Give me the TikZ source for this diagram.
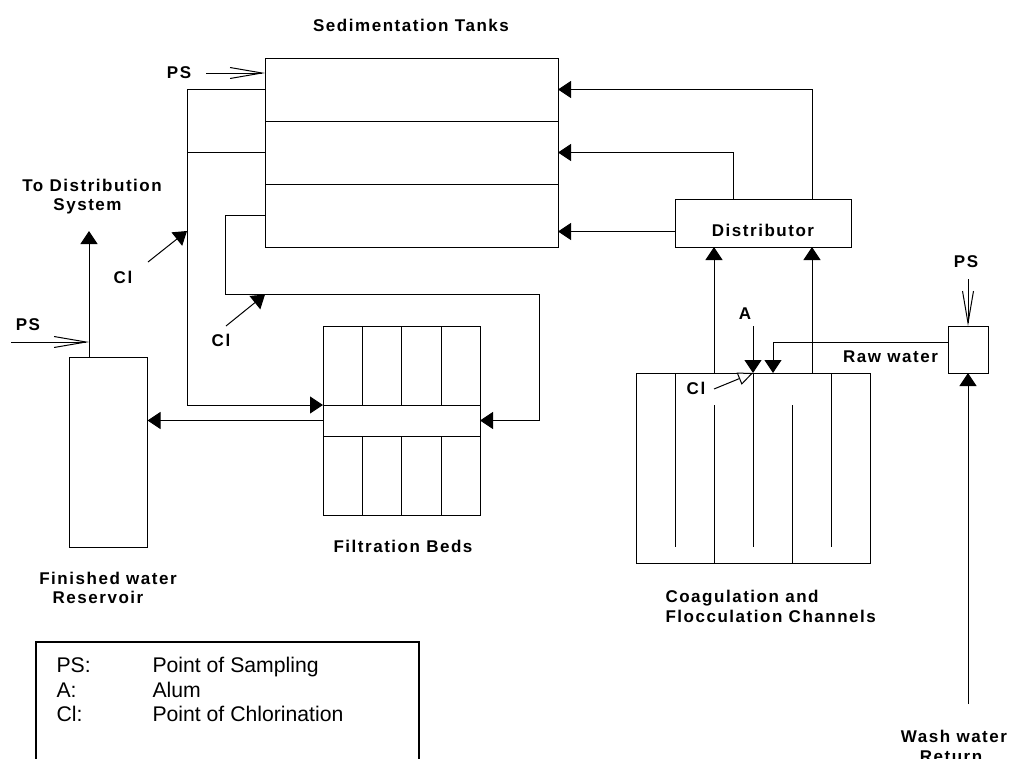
\documentclass[tikz,border=0pt]{standalone}
\usepackage{fontspec}
\setmainfont{Liberation Sans}
\newfontfamily\lblfont[LetterSpace=9]{Liberation Sans}
\usetikzlibrary{arrows.meta}

\begin{document}
\begin{tikzpicture}[x=1pt,y=-1pt,>=Stealth,line width=1pt,
		box/.style={draw,rectangle,inner sep=0pt,outer sep=0pt},
		lbl/.style={inner sep=0pt,anchor=base,font=\lblfont\bfseries\fontsize{17}{20}\selectfont},
		key/.style={inner sep=0pt,anchor=base west,font=\fontsize{21.2}{24}\selectfont},
		flow/.style={-{Triangle[length=13pt,width=17pt]}},
		probe/.style={-{Straight Barb[length=32pt,width=11pt]}},
		dose/.style={-{Triangle[open,fill=white,length=15pt,width=13pt]}}]
		
		\useasboundingbox (0,0) rectangle (1009,758);
		
		% Sedimentation tanks
		\node[box,minimum width=293pt,minimum height=63pt] (tankA) at (411.5,89.5) {};
		\node[box,minimum width=293pt,minimum height=63pt] (tankB) at (411.5,152.5) {};
		\node[box,minimum width=293pt,minimum height=63pt] (tankC) at (411.5,215.5) {};
		\node[lbl] (tankLbl) at (411,31) {Sedimentation Tanks};
		
		% Distributor
		\node[box,minimum width=176pt,minimum height=47.5pt] (dist) at (763,223.25) {};
		\node[lbl] (distLbl) at (763,236) {Distributor};
		
		% Filtration beds
		\node[box,minimum width=157pt,minimum height=189pt] (fbed) at (401.5,420.5) {};
		\node[box,minimum width=157pt,minimum height=31pt] (fband) at (401.5,420.5) {};
		\draw (362,326) -- (362,405);
		\draw (401.5,326) -- (401.5,405);
		\draw (441,326) -- (441,405);
		\draw (362,436) -- (362,515);
		\draw (401.5,436) -- (401.5,515);
		\draw (441,436) -- (441,515);
		\node[lbl] (fbedLbl) at (403,552) {Filtration Beds};
		
		% Finished water reservoir
		\node[box,minimum width=78pt,minimum height=190pt] (res) at (108.5,452) {};
		\node[lbl] (resLblA) at (108,584) {Finished water};
		\node[lbl] (resLblB) at (98,603) {Reservoir};
		
		% Coagulation and flocculation channels
		\node[box,minimum width=234pt,minimum height=190pt] (coag) at (753,468) {};
		\draw (675,373) -- (675,547);
		\draw (714,405) -- (714,563);
		\draw (753,373) -- (753,547);
		\draw (792,405) -- (792,563);
		\draw (831,373) -- (831,547);
		\node[lbl,anchor=base west] (coagLblA) at (665,602) {Coagulation and};
		\node[lbl,anchor=base west] (coagLblB) at (665,622) {Flocculation Channels};
		
		% Raw water box
		\node[box,minimum width=40pt,minimum height=47pt] (raw) at (968,349.5) {};
		\node[lbl] (rawLbl) at (890.5,362) {Raw water};
		\node[lbl] (washLblA) at (954,742) {Wash water};
		\node[lbl] (washLblB) at (951,762) {Return};
		
		% Ends and bends of the pipes
		\coordinate (dUpA) at (812,199.5);
		\coordinate (dUpB) at (733,199.5);
		\coordinate (dOut) at (675,231.5);
		\coordinate (cUpA) at (714,373);
		\coordinate (cUpB) at (812,373);
		\coordinate (rawOut) at (948,342);
		\coordinate (rawIn) at (773,373);
		\coordinate (washEnd) at (968,704);
		\coordinate (busB) at (187,405);
		\coordinate (bendA) at (225.5,294.5);
		\coordinate (bendB) at (539,294.5);
		\coordinate (resUp) at (89,357);
		\coordinate (toDist) at (89,231);
		
		% Distributor to tanks
		\draw[flow] (dUpA) |- (tankA.east);
		\draw[flow] (dUpB) |- (tankB.east);
		\draw[flow] (dOut) -- (dOut -| tankC.east);
		
		% Channels to distributor
		\draw[flow] (cUpA) -- (cUpA |- dist.south);
		\draw[flow] (cUpB) -- (cUpB |- dist.south);
		
		% Raw and wash water
		\draw[flow] (rawOut) -| (rawIn);
		\draw[flow] (washEnd) -- (raw.south);
		
		% Tanks to filtration beds
		\draw[flow] (tankA.west) -| (busB) -- (fband.north west);
		\draw (tankB.west) -- (tankB.west -| busB);
		\draw[flow] (tankC.west) -| (bendA) -- (bendB) |- (fband.east);
		
		% Filtration beds to reservoir and out
		\draw[flow] (fband.west) -- (fband.west -| res.east);
		\draw[flow] (resUp) -- (toDist);
		
		% Sampling points
		\coordinate (psTop) at (206,73);
		\coordinate (psLeft) at (11,342);
		\coordinate (psRight) at (968,279);
		\draw[probe] (psTop) -- (psTop -| tankA.west);
		\draw[probe] (psLeft) -- (psLeft -| resUp);
		\draw[probe] (psRight) -- (raw.north);
		\node[lbl] (psTopLbl) at (179,78) {PS};
		\node[lbl] (psLeftLbl) at (28,330) {PS};
		\node[lbl] (psRightLbl) at (966,267) {PS};
		
		% Alum and chlorination
		\coordinate (alumEnd) at (753,326);
		\coordinate (alumIn) at (753,373);
		\coordinate (clAs) at (148,262);
		\coordinate (clAe) at (187,231);
		\coordinate (clBs) at (226,326);
		\coordinate (clBe) at (265,294.5);
		\coordinate (clCs) at (714,389);
		\draw[dose] (clCs) -- (alumIn);
		\draw[flow] (alumEnd) -- (alumIn);
		\draw[flow] (clAs) -- (clAe);
		\draw[flow] (clBs) -- (clBe);
		\node[lbl] (alumLbl) at (745,319) {A};
		\node[lbl] (clALbl) at (123,283) {Cl};
		\node[lbl] (clBLbl) at (221,346) {Cl};
		\node[lbl] (clCLbl) at (696,394) {Cl};
		
		% Upper labels on the left
		\node[lbl] (toDistA) at (92,191) {To Distribution};
		\node[lbl] (toDistB) at (87.5,210) {System};
		
		% Legend, its lower edge is off the page
		\node[box,line width=2pt,anchor=north west,minimum width=383.5pt,minimum height=200pt] (legend) at (35.5,642) {};
		\node[key] (keyPS) at (56,672) {PS:};
		\node[key] (keyA) at (56,697) {A:};
		\node[key] (keyCl) at (56,721) {Cl:};
		\node[key] (valPS) at (152,672) {Point of Sampling};
		\node[key] (valA) at (152,697) {Alum};
		\node[key] (valCl) at (152,721) {Point of Chlorination};
		
	\end{tikzpicture}
\end{document}
